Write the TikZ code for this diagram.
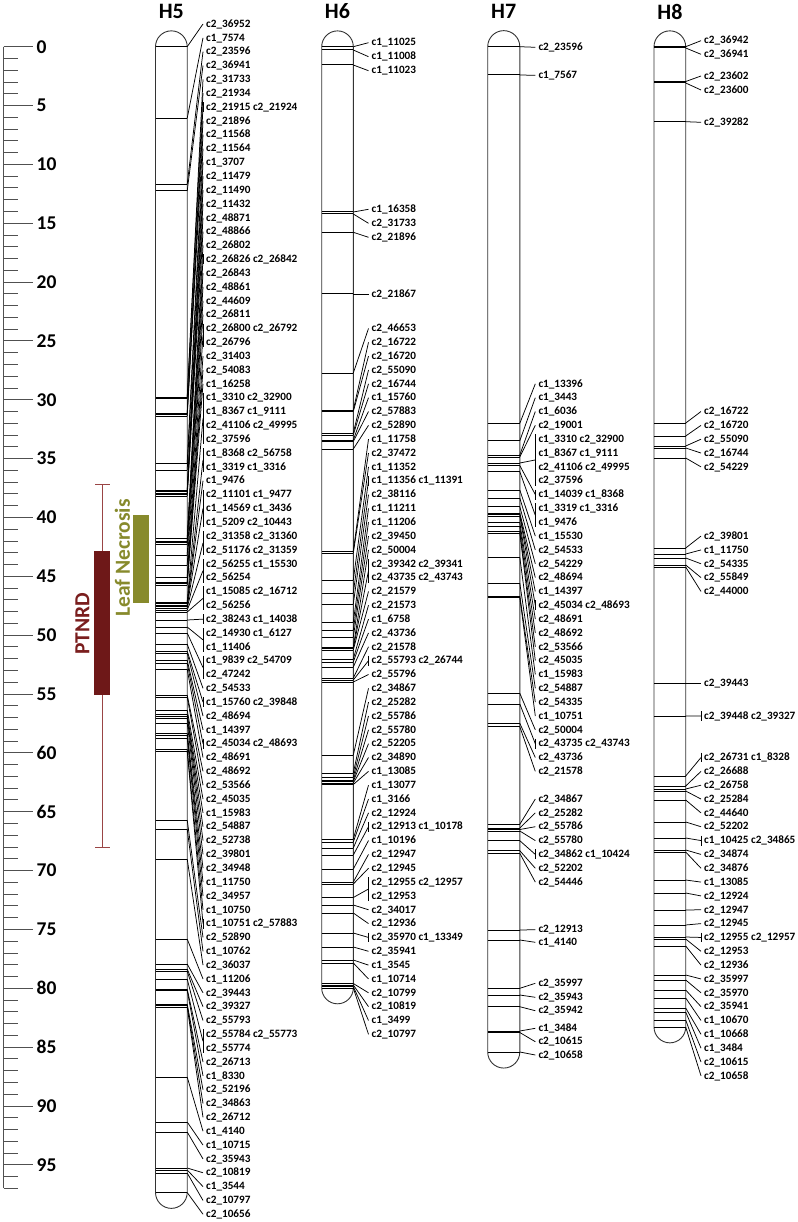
\documentclass[tikz,border=0pt]{standalone}
\usepackage{fontspec}
\setmainfont{Carlito}
\usetikzlibrary{calc}
\definecolor{ptn}{HTML}{6E1818}
\definecolor{ptntext}{HTML}{7A1E1E}
\definecolor{ptnline}{HTML}{9A4545}
\definecolor{leaf}{HTML}{878A2C}
\definecolor{rul}{HTML}{505050}
\tikzset{
 lab/.style={anchor=west,inner xsep=3pt,inner ysep=0pt,text height=8pt,text depth=1.5pt,font=\fontsize{11.2}{12}\selectfont\bfseries},
 mline/.style={line width=1pt,black},
 conn/.style={line width=0.75pt,black},
 chrom/.style={line width=0.9pt,draw=black!80},
 rtick/.style={line width=1pt,rul},
 rlab/.style={anchor=west,inner sep=0pt,font=\fontsize{19.5}{20}\selectfont\bfseries},
 ctitle/.style={font=\fontsize{22}{24}\selectfont\bfseries},
 trait/.style={rotate=90,inner sep=0pt,font=\fontsize{21.5}{23}\selectfont\bfseries},
}
\newcommand\R[1]{24+13.84*#1}
\newcommand\lb[3]{\node[lab] (#1) at (\labx,{#2}) {#3};}
\newcommand\mk[4]{\draw[mline] (\chl,#2) -- (\chrr,#2); \coordinate (#1m) at (\chrr,#2); \lb{#1}{#3}{#4} \draw[conn] (#1m) -- (#1.west);}
\newcommand\gr[4]{\draw[mline] (\chl,#2) -- (\chrr,#2); \coordinate (#1m) at (\chrr,#2); \draw[conn] (#3.north west) -- (#4.south west); \draw[conn] (#1m) -- ($(#3.north west)!0.5!(#4.south west)$);}
\newcommand\drawchrom[4]{%
 \draw[chrom] (#1,#4) -- (#1,#3) arc[start angle=180,end angle=360,radius={(#2-#1)/2}] -- (#2,#4) arc[start angle=0,end angle=180,radius={(#2-#1)/2}] -- cycle;
 \draw[chrom] (#1,#3) -- (#2,#3); \draw[chrom] (#1,#4) -- (#2,#4);}
\begin{document}
\begin{tikzpicture}[x=1pt,y=-1pt]
\useasboundingbox (0,0) rectangle (797,1222);
% ruler
\draw[rtick] (3.5,46.7) -- (3.5,{46.7+11.77*97});
\foreach \i in {0,...,97} \draw[rtick] (3.5,{46.7+11.77*\i}) -- (18.3,{46.7+11.77*\i});
\foreach \i in {0,5,...,95} {\draw[rtick] (3.5,{46.7+11.77*\i}) -- (33.3,{46.7+11.77*\i});
  \node[rlab] (r\i) at (36.5,{46.7+11.77*\i}) {\i};}
% QTL
\draw[ptnline,line width=0.8pt] (102.2,484) -- (102.2,847);
\draw[ptnline,line width=0.8pt] (95,484) -- (109.5,484);
\draw[ptnline,line width=0.8pt] (95,847) -- (109.5,847);
\fill[ptn] (94.3,551) rectangle (110,695);
\node[trait,text=ptntext] (ptnrd) at (82.5,624) {PTNRD};
\fill[leaf] (132.7,515) rectangle (149,603.3);
\node[trait,text=leaf] (leafn) at (122.5,558) {Leaf Necrosis};
% titles
\node[ctitle] (t5) at (171.3,11.5) {H5};
\node[ctitle] (t6) at (337.5,11.5) {H6};
\node[ctitle] (t7) at (503.7,11.5) {H7};
\node[ctitle] (t8) at (670,11.5) {H8};
% ---------------- H5
\def\chl{155.5}\def\chrr{187.2}\def\labx{203}
\drawchrom{155.5}{187.2}{46.7}{1192.5}
\mk{a0}{46.7}{\R{0}}{c2\_36952}
\mk{a1}{118.3}{\R{1}}{c1\_7574}
\mk{a2}{184.3}{\R{2}}{c2\_23596}
\mk{a3}{191}{\R{3}}{c2\_36941}
\mk{a4}{397}{\R{4}}{c2\_31733}
\mk{a5}{398.5}{\R{5}}{c2\_21934}
\lb{a6}{\R{6}}{c2\_21915 c2\_21924}\gr{g6}{413}{a6}{a6}
\mk{a7}{414.5}{\R{7}}{c2\_21896}
\mk{a8}{416}{\R{8}}{c2\_11568}
\mk{a9}{463}{\R{9}}{c2\_11564}
\mk{a10}{470}{\R{10}}{c1\_3707}
\mk{a11}{490}{\R{11}}{c2\_11479}
\mk{a12}{491.5}{\R{12}}{c2\_11490}
\mk{a13}{493}{\R{13}}{c2\_11432}
\mk{a14}{494.5}{\R{14}}{c2\_48871}
\mk{a15}{496}{\R{15}}{c2\_48866}
\mk{a16}{538}{\R{16}}{c2\_26802}
\lb{a17}{\R{17}}{c2\_26826 c2\_26842}\gr{g17}{541}{a17}{a17}
\mk{a18}{542.5}{\R{18}}{c2\_26843}
\mk{a19}{544}{\R{19}}{c2\_48861}
\mk{a20}{555}{\R{20}}{c2\_44609}
\mk{a21}{565}{\R{21}}{c2\_26811}
\lb{a22}{\R{22}}{c2\_26800 c2\_26792}\lb{a23}{\R{23}}{c2\_26796}\gr{g22}{577}{a22}{a23}
\mk{a24}{582}{\R{24}}{c2\_31403}
\mk{a25}{583.5}{\R{25}}{c2\_54083}
\mk{a26}{585}{\R{26}}{c1\_16258}
\lb{a27}{\R{27}}{c1\_3310 c2\_32900}\lb{a28}{\R{28}}{c1\_8367 c1\_9111}\lb{a29}{\R{29}}{c2\_41106 c2\_49995}\lb{a30}{\R{30}}{c2\_37596}\gr{g27}{602}{a27}{a30}
\lb{a31}{\R{31}}{c1\_8368 c2\_56758}\lb{a32}{\R{32}}{c1\_3319 c1\_3316}\gr{g31}{603.5}{a31}{a32}
\mk{a33}{605}{\R{33}}{c1\_9476}
\lb{a34}{\R{34}}{c2\_11101 c1\_9477}\lb{a35}{\R{35}}{c1\_14569 c1\_3436}\lb{a36}{\R{36}}{c1\_5209 c2\_10443}\gr{g34}{606.5}{a34}{a36}
\lb{a37}{\R{37}}{c2\_31358 c2\_31360}\lb{a38}{\R{38}}{c2\_51176 c2\_31359}\gr{g37}{608}{a37}{a38}
\lb{a39}{\R{39}}{c2\_56255 c1\_15530}\lb{a40}{\R{40}}{c2\_56254}\gr{g39}{610}{a39}{a40}
\lb{a41}{\R{41}}{c1\_15085 c2\_16712}\lb{a42}{\R{42}}{c2\_56256}\gr{g41}{612}{a41}{a42}
\lb{a43}{\R{43}}{c2\_38243 c1\_14038}\gr{g43}{620}{a43}{a43}
\lb{a44}{\R{44}}{c2\_14930 c1\_6127}\lb{a45}{\R{45}}{c1\_11406}\gr{g44}{627}{a44}{a45}
\lb{a46}{\R{46}}{c1\_9839 c2\_54709}\lb{a47}{\R{47}}{c2\_47242}\gr{g46}{633}{a46}{a47}
\mk{a48}{644}{\R{48}}{c2\_54533}
\lb{a49}{\R{49}}{c1\_15760 c2\_39848}\gr{g49}{651}{a49}{a49}
\mk{a50}{653}{\R{50}}{c2\_48694}
\mk{a51}{660}{\R{51}}{c1\_14397}
\lb{a52}{\R{52}}{c2\_45034 c2\_48693}\gr{g52}{663}{a52}{a52}
\mk{a53}{669}{\R{53}}{c2\_48691}
\mk{a54}{695}{\R{54}}{c2\_48692}
\mk{a55}{697}{\R{55}}{c2\_53566}
\mk{a56}{710}{\R{56}}{c2\_45035}
\mk{a57}{714}{\R{57}}{c1\_15983}
\mk{a58}{716}{\R{58}}{c2\_54887}
\mk{a59}{718}{\R{59}}{c2\_52738}
\mk{a60}{723}{\R{60}}{c2\_39801}
\mk{a61}{733}{\R{61}}{c2\_34948}
\mk{a62}{735}{\R{62}}{c1\_11750}
\mk{a63}{738}{\R{63}}{c2\_34957}
\mk{a64}{749}{\R{64}}{c1\_10750}
\lb{a65}{\R{65}}{c1\_10751 c2\_57883}\gr{g65}{751}{a65}{a65}
\mk{a66}{820}{\R{66}}{c2\_52890}
\mk{a67}{829}{\R{67}}{c1\_10762}
\mk{a68}{859}{\R{68}}{c2\_36037}
\mk{a69}{939}{\R{69}}{c1\_11206}
\mk{a70}{964}{\R{70}}{c2\_39443}
\mk{a71}{969}{\R{71}}{c2\_39327}
\mk{a72}{971}{\R{72}}{c2\_55793}
\lb{a73}{\R{73}}{c2\_55784 c2\_55773}\lb{a74}{\R{74}}{c2\_55774}\gr{g73}{979}{a73}{a74}
\mk{a75}{989}{\R{75}}{c2\_26713}
\mk{a76}{990.5}{\R{76}}{c1\_8330}
\mk{a77}{1004}{\R{77}}{c2\_52196}
\mk{a78}{1005.5}{\R{78}}{c2\_34863}
\mk{a79}{1007}{\R{79}}{c2\_26712}
\mk{a80}{1077}{\R{80}}{c1\_4140}
\mk{a81}{1122}{\R{81}}{c1\_10715}
\mk{a82}{1132}{\R{82}}{c2\_35943}
\mk{a83}{1168}{\R{83}}{c2\_10819}
\mk{a84}{1170}{\R{84}}{c1\_3544}
\mk{a85}{1173}{\R{85}}{c2\_10797}
\mk{a86}{1192.5}{\R{86}}{c2\_10656}
% ---------------- H6
\def\chl{321.7}\def\chrr{353.3}\def\labx{368.5}
\drawchrom{321.7}{353.3}{46.7}{988}
\mk{b1}{46.7}{42.7}{c1\_11025}
\mk{b2}{50}{56.7}{c1\_11008}
\mk{b3}{65}{70.7}{c1\_11023}
\mk{b4}{212}{209.3}{c1\_16358}
\mk{b5}{214}{223.3}{c2\_31733}
\mk{b6}{232.3}{237.3}{c2\_21896}
\mk{b7}{294}{294}{c2\_21867}
\mk{b22}{373}{\R{22}}{c2\_46653}
\mk{b23}{410}{\R{23}}{c2\_16722}
\mk{b24}{411.5}{\R{24}}{c2\_16720}
\mk{b25}{433}{\R{25}}{c2\_55090}
\mk{b26}{435}{\R{26}}{c2\_16744}
\mk{b27}{440}{\R{27}}{c1\_15760}
\mk{b28}{441.5}{\R{28}}{c2\_57883}
\mk{b29}{449}{\R{29}}{c2\_52890}
\mk{b30}{551}{\R{30}}{c1\_11758}
\mk{b31}{553}{\R{31}}{c2\_37472}
\mk{b32}{580}{\R{32}}{c1\_11352}
\lb{b33}{\R{33}}{c1\_11356 c1\_11391}\gr{h33}{593}{b33}{b33}
\mk{b34}{604}{\R{34}}{c2\_38116}
\mk{b35}{622}{\R{35}}{c1\_11211}
\mk{b36}{630}{\R{36}}{c1\_11206}
\mk{b37}{637}{\R{37}}{c2\_39450}
\mk{b38}{647}{\R{38}}{c2\_50004}
\lb{b39}{\R{39}}{c2\_39342 c2\_39341}\lb{b40}{\R{40}}{c2\_43735 c2\_43743}\gr{h39}{648.5}{b39}{b40}
\mk{b41}{650}{\R{41}}{c2\_21579}
\mk{b42}{659}{\R{42}}{c2\_21573}
\mk{b43}{662}{\R{43}}{c1\_6758}
\mk{b44}{667}{\R{44}}{c2\_43736}
\mk{b45}{678}{\R{45}}{c2\_21578}
\lb{b46}{\R{46}}{c2\_55793 c2\_26744}\gr{h46}{680}{b46}{b46}
\mk{b47}{682}{\R{47}}{c2\_55796}
\mk{b48}{755}{\R{48}}{c2\_34867}
\mk{b49}{773}{\R{49}}{c2\_25282}
\mk{b50}{777}{\R{50}}{c2\_55786}
\mk{b51}{780}{\R{51}}{c2\_55780}
\mk{b52}{781.5}{\R{52}}{c2\_52205}
\mk{b53}{783}{\R{53}}{c2\_34890}
\mk{b54}{784.5}{\R{54}}{c1\_13085}
\mk{b55}{839}{\R{55}}{c1\_13077}
\mk{b56}{842}{\R{56}}{c1\_3166}
\mk{b57}{848}{\R{57}}{c2\_12924}
\lb{b58}{\R{58}}{c2\_12913 c1\_10178}\gr{h58}{855}{b58}{b58}
\mk{b59}{869}{\R{59}}{c1\_10196}
\mk{b60}{882}{\R{60}}{c2\_12947}
\mk{b61}{884}{\R{61}}{c2\_12945}
\lb{b62}{\R{62}}{c2\_12955 c2\_12957}\lb{b63}{\R{63}}{c2\_12953}\gr{h62}{897.5}{b62}{b63}
\mk{b64}{905}{\R{64}}{c2\_34017}
\mk{b65}{913}{\R{65}}{c2\_12936}
\lb{b66}{\R{66}}{c2\_35970 c1\_13349}\gr{h66}{933}{b66}{b66}
\mk{b67}{947}{\R{67}}{c2\_35941}
\mk{b68}{960}{\R{68}}{c1\_3545}
\mk{b69}{963}{\R{69}}{c1\_10714}
\mk{b70}{983.5}{\R{70}}{c2\_10799}
\mk{b71}{985}{\R{71}}{c2\_10819}
\mk{b72}{986.5}{\R{72}}{c1\_3499}
\mk{b73}{988}{\R{73}}{c2\_10797}
% ---------------- H7
\def\chl{487.7}\def\chrr{519.8}\def\labx{535.3}
\drawchrom{487.7}{519.8}{46.7}{1052}
\mk{c1}{46.7}{47.3}{c2\_23596}
\mk{c2}{75}{75.3}{c1\_7567}
\mk{c26}{423.3}{\R{26}}{c1\_13396}
\mk{c27}{440.7}{\R{27}}{c1\_3443}
\mk{c28}{455}{\R{28}}{c1\_6036}
\mk{c29}{457}{\R{29}}{c2\_19001}
\lb{c30}{\R{30}}{c1\_3310 c2\_32900}\lb{c31}{\R{31}}{c1\_8367 c1\_9111}\lb{c32}{\R{32}}{c2\_41106 c2\_49995}\lb{c33}{\R{33}}{c2\_37596}\gr{k30}{463}{c30}{c33}
\lb{c34}{\R{34}}{c1\_14039 c1\_8368}\gr{k34}{465.5}{c34}{c34}
\lb{c35}{\R{35}}{c1\_3319 c1\_3316}\lb{c36}{\R{36}}{c1\_9476}\gr{k35}{471.7}{c35}{c36}
\mk{c37}{490}{\R{37}}{c1\_15530}
\mk{c38}{498}{\R{38}}{c2\_54533}
\mk{c39}{506.7}{\R{39}}{c2\_54229}
\mk{c40}{513}{\R{40}}{c2\_48694}
\mk{c41}{514.5}{\R{41}}{c1\_14397}
\lb{c42}{\R{42}}{c2\_45034 c2\_48693}\gr{k42}{516}{c42}{c42}
\mk{c43}{522.7}{\R{43}}{c2\_48691}
\mk{c44}{526.7}{\R{44}}{c2\_48692}
\mk{c45}{531.7}{\R{45}}{c2\_53566}
\mk{c46}{533}{\R{46}}{c2\_45035}
\mk{c47}{557.3}{\R{47}}{c1\_15983}
\mk{c48}{583.3}{\R{48}}{c2\_54887}
\mk{c49}{596}{\R{49}}{c2\_54335}
\mk{c50}{597.5}{\R{50}}{c1\_10751}
\mk{c51}{693.3}{\R{51}}{c2\_50004}
\lb{c52}{\R{52}}{c2\_43735 c2\_43743}\gr{k52}{704}{c52}{c52}
\mk{c53}{723.3}{\R{53}}{c2\_43736}
\mk{c54}{726.7}{\R{54}}{c2\_21578}
\mk{c56}{824.3}{\R{56}}{c2\_34867}
\mk{c57}{828}{\R{57}}{c2\_25282}
\mk{c58}{829.5}{\R{58}}{c2\_55786}
\mk{c59}{831}{\R{59}}{c2\_55780}
\lb{c60}{\R{60}}{c2\_34862 c1\_10424}\gr{k60}{840.7}{c60}{c60}
\mk{c61}{850.7}{\R{61}}{c2\_52202}
\mk{c62}{853.3}{\R{62}}{c2\_54446}
\mk{c63}{930}{929.7}{c2\_12913}
\mk{c64}{940}{942.3}{c1\_4140}
\mk{c65}{988.3}{983.3}{c2\_35997}
\mk{c66}{995}{997.3}{c2\_35943}
\mk{c67}{1006.7}{1010.7}{c2\_35942}
\mk{c68}{1031}{1028.3}{c1\_3484}
\mk{c69}{1032.5}{1041.7}{c2\_10615}
\mk{c70}{1052}{1055}{c2\_10658}
% ---------------- H8
\def\chl{654}\def\chrr{685.7}\def\labx{701}
\drawchrom{654}{685.7}{46.7}{1027}
\mk{d1}{46.7}{40.7}{c2\_36942}
\mk{d2}{48}{54.3}{c2\_36941}
\mk{d3}{81.5}{76}{c2\_23602}
\mk{d4}{83}{90}{c2\_23600}
\mk{d5}{121.7}{122.3}{c2\_39282}
\mk{d28}{423}{\R{28}}{c2\_16722}
\mk{d29}{436}{\R{29}}{c2\_16720}
\mk{d30}{446}{\R{30}}{c2\_55090}
\mk{d31}{448}{\R{31}}{c2\_16744}
\mk{d32}{458}{\R{32}}{c2\_54229}
\mk{d37}{548}{\R{37}}{c2\_39801}
\mk{d38}{554}{\R{38}}{c1\_11750}
\mk{d39}{558}{\R{39}}{c2\_54335}
\mk{d40}{565}{\R{40}}{c2\_55849}
\mk{d41}{567}{\R{41}}{c2\_44000}
\mk{d42}{683}{683}{c2\_39443}
\lb{d43}{716}{c2\_39448 c2\_39327}\gr{e43}{716}{d43}{d43}
\lb{d53}{\R{53}}{c2\_26731 c1\_8328}\gr{e53}{776}{d53}{d53}
\mk{d54}{786}{\R{54}}{c2\_26688}
\mk{d55}{789}{\R{55}}{c2\_26758}
\mk{d56}{791}{\R{56}}{c2\_25284}
\mk{d57}{800}{\R{57}}{c2\_44640}
\mk{d58}{822}{\R{58}}{c2\_52202}
\lb{d59}{\R{59}}{c1\_10425 c2\_34865}\gr{e59}{838}{d59}{d59}
\mk{d60}{850}{\R{60}}{c2\_34874}
\mk{d61}{852}{\R{61}}{c2\_34876}
\mk{d62}{880}{\R{62}}{c1\_13085}
\mk{d63}{893}{\R{63}}{c2\_12924}
\mk{d64}{910}{\R{64}}{c2\_12947}
\mk{d65}{925}{\R{65}}{c2\_12945}
\lb{d66}{\R{66}}{c2\_12955 c2\_12957}\gr{e66}{937}{d66}{d66}
\mk{d67}{939}{\R{67}}{c2\_12953}
\mk{d68}{946}{\R{68}}{c2\_12936}
\mk{d69}{975}{\R{69}}{c2\_35997}
\mk{d70}{980}{\R{70}}{c2\_35970}
\mk{d71}{990}{\R{71}}{c2\_35941}
\mk{d72}{998}{\R{72}}{c1\_10670}
\mk{d73}{1008}{\R{73}}{c1\_10668}
\mk{d74}{1012}{\R{74}}{c1\_3484}
\mk{d75}{1020}{\R{75}}{c2\_10615}
\mk{d76}{1027}{\R{76}}{c2\_10658}
\end{tikzpicture}
\end{document}
